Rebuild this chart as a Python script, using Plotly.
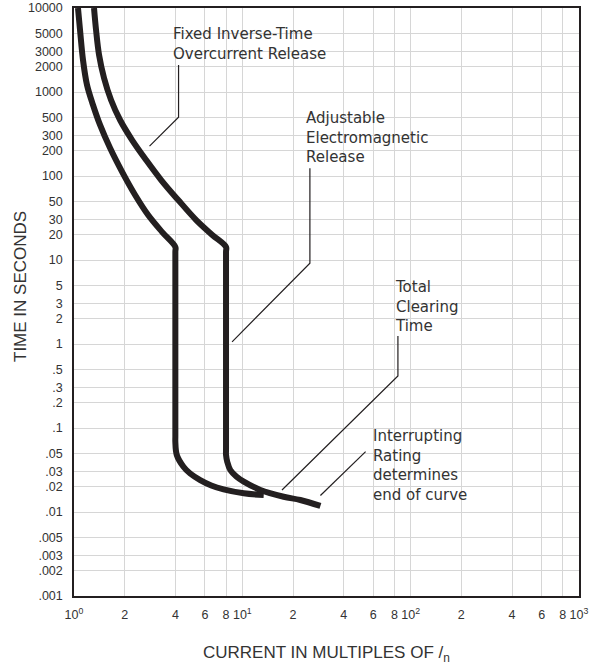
import plotly.graph_objects as go

# ---- data ----
# left band boundary (minimum tripping curve)
min_curve_x = [1.056, 1.086, 1.131, 1.195, 1.297, 1.428, 1.638, 1.931, 2.307, 2.757, 3.341, 4.0,
               4.0, 4.0, 4.0, 4.08, 4.47, 4.90, 5.62, 6.54, 7.74, 10.2, 13.4]
min_curve_y = [10000, 5470, 2404, 1211, 700, 405, 215, 112, 59.4, 34.3, 21.5, 14.3,
               12.5, 0.08, 0.068, 0.0477, 0.0346, 0.0287, 0.024, 0.0207, 0.0186, 0.0167, 0.0159]

# right band boundary (total clearing time)
max_curve_x = [1.315, 1.352, 1.409, 1.508, 1.66, 1.878, 2.214, 2.683, 3.295, 4.16, 5.32, 6.63, 8.0,
               8.0, 8.0, 8.0, 8.14, 8.48, 9.21, 10.2, 12.8, 17.6, 22.1, 29.1]
max_curve_y = [10000, 5470, 2754, 1468, 803, 464, 268, 155, 89.6, 51.8, 29.9, 19.9, 14.3,
               12.5, 0.055, 0.048, 0.0394, 0.0316, 0.0265, 0.023, 0.0183, 0.0152, 0.0139, 0.0118]

# leader lines for the callouts
lead_fixed_x = [4.18, 4.18, 2.81]
lead_fixed_y = [2094, 500, 227]
lead_adj_x = [25.2, 25.2, 8.69]
lead_adj_y = [124, 9.14, 1.06]
lead_total_x = [84, 84, 17.2]
lead_total_y = [1.245, 0.416, 0.0183]
lead_int_x = [54, 29.1]
lead_int_y = [0.0523, 0.0157]

# callout texts
label_fixed = "Fixed Inverse-Time<br>Overcurrent Release"
label_adj = "Adjustable<br>Electromagnetic<br>Release"
label_total = "Total<br>Clearing<br>Time"
label_int = "Interrupting<br>Rating<br>determines<br>end of curve"

# axis ticks
x_tickvals = [1, 2, 4, 6, 8, 10, 20, 40, 60, 80, 100, 200, 400, 600, 800, 1000]
x_ticktext = ["10<sup>0</sup>", "2", "4", "6", "8", "10<sup>1</sup>", "2", "4", "6", "8",
              "10<sup>2</sup>", "2", "4", "6", "8", "10<sup>3</sup>"]
y_tickvals = [0.001, 0.002, 0.003, 0.005, 0.01, 0.02, 0.03, 0.05, 0.1, 0.2, 0.3, 0.5,
              1, 2, 3, 5, 10, 20, 30, 50, 100, 200, 300, 500, 1000, 2000, 3000, 5000, 10000]
y_ticktext = [".001", ".002", ".003", ".005", ".01", ".02", ".03", ".05", ".1", ".2", ".3", ".5",
              "1", "2", "3", "5", "10", "20", "30", "50", "100", "200", "300", "500",
              "1000", "2000", "3000", "5000", "10000"]

x_title = "CURRENT IN MULTIPLES OF /<sub>n</sub>"
y_title = "TIME IN SECONDS"

# ---- figure ----
INK = "#231f20"
TXT = "#333333"
fig = go.Figure()

for xs, ys in [(min_curve_x, min_curve_y), (max_curve_x, max_curve_y)]:
    fig.add_trace(go.Scatter(x=xs, y=ys, mode="lines",
                             line=dict(color=INK, width=6, shape="spline", smoothing=1.0),
                             hoverinfo="skip"))

for xs, ys in [(lead_fixed_x, lead_fixed_y), (lead_adj_x, lead_adj_y),
               (lead_total_x, lead_total_y), (lead_int_x, lead_int_y)]:
    fig.add_trace(go.Scatter(x=xs, y=ys, mode="lines",
                             line=dict(color=INK, width=1.2), hoverinfo="skip"))

PL, PR, PT, PB = 74, 579, 8, 596
W, H = 598, 668


def px(xp):
    return (xp - PL) / (PR - PL)


def py(yp):
    return (PB - yp) / (PB - PT)


afont = dict(family="DejaVu Sans", size=15, color=TXT)
for text, xl, yt in [(label_fixed, 171, 23), (label_adj, 304, 107),
                     (label_total, 393, 276), (label_int, 370.5, 425)]:
    fig.add_annotation(text=text, xref="paper", yref="paper", x=px(xl), y=py(yt),
                       xanchor="left", yanchor="top", align="left", showarrow=False,
                       font=afont)

tfont = dict(family="Liberation Sans", size=17, color=TXT)
fig.add_annotation(text=x_title, xref="paper", yref="paper", x=px(326), y=py(654),
                   xanchor="center", yanchor="middle", showarrow=False, font=tfont)
fig.add_annotation(text=y_title, xref="paper", yref="paper", x=px(20), y=py(287),
                   xanchor="center", yanchor="middle", showarrow=False, font=tfont,
                   textangle=-90)

fig.update_layout(
    width=W, height=H,
    margin=dict(l=PL, r=W - PR, t=PT, b=H - PB, pad=0),
    paper_bgcolor="white", plot_bgcolor="white",
    showlegend=False,
    xaxis=dict(type="log", range=[0, 3], tickvals=x_tickvals, ticktext=x_ticktext,
               showgrid=True, gridcolor="#d6d6d6", gridwidth=1.4,
               showline=True, linecolor=INK, linewidth=1.5, mirror=True,
               ticks="", ticklabelstandoff=6, zeroline=False, automargin=False,
               tickfont=dict(family="Liberation Sans", size=12.5, color=TXT)),
    yaxis=dict(type="log", range=[-3, 4], tickvals=y_tickvals, ticktext=y_ticktext,
               showgrid=True, gridcolor="#d6d6d6", gridwidth=1.4,
               showline=True, linecolor=INK, linewidth=1.5, mirror=True,
               ticks="", ticklabelstandoff=7, zeroline=False, automargin=False,
               tickfont=dict(family="Liberation Sans", size=12.5, color=TXT)),
)

fig.write_html("out.html", config={"displayModeBar": False},
               post_script="document.body.style.margin='0';document.body.style.overflow='hidden';")
